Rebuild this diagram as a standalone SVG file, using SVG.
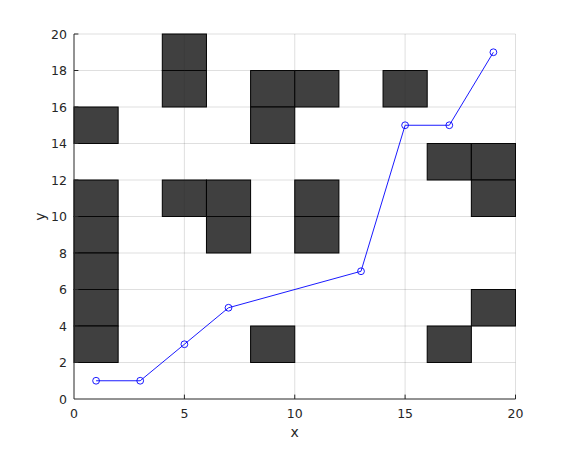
<svg xmlns="http://www.w3.org/2000/svg" width="570" height="450" viewBox="0 0 570 450">
<style>
.cell{fill:#404040;stroke:#000;stroke-width:1}
.grid{stroke:#262626;stroke-opacity:0.15;stroke-width:1;fill:none}
.axis{stroke:#262626;stroke-width:1;fill:none}
.tick{font-family:"DejaVu Sans",sans-serif;font-size:12.5px;fill:#262626}
.lab{font-family:"DejaVu Sans",sans-serif;font-size:14px;fill:#262626}
.mk{fill:none;stroke:#0000ff;stroke-width:0.9}
</style>
<rect width="570" height="450" fill="#fff"/>
<g id="obstacles">
<rect class="cell" x="74" y="107" width="44.15" height="36.5"/>
<rect class="cell" x="162.3" y="34" width="44.15" height="36.5"/>
<rect class="cell" x="162.3" y="70.5" width="44.15" height="36.5"/>
<rect class="cell" x="250.6" y="70.5" width="44.15" height="36.5"/>
<rect class="cell" x="294.75" y="70.5" width="44.15" height="36.5"/>
<rect class="cell" x="250.6" y="107" width="44.15" height="36.5"/>
<rect class="cell" x="383.05" y="70.5" width="44.15" height="36.5"/>
<rect class="cell" x="427.2" y="143.5" width="44.15" height="36.5"/>
<rect class="cell" x="471.35" y="143.5" width="44.15" height="36.5"/>
<rect class="cell" x="471.35" y="180" width="44.15" height="36.5"/>
<rect class="cell" x="74" y="180" width="44.15" height="36.5"/>
<rect class="cell" x="74" y="216.5" width="44.15" height="36.5"/>
<rect class="cell" x="74" y="253" width="44.15" height="36.5"/>
<rect class="cell" x="74" y="289.5" width="44.15" height="36.5"/>
<rect class="cell" x="74" y="326" width="44.15" height="36.5"/>
<rect class="cell" x="162.3" y="180" width="44.15" height="36.5"/>
<rect class="cell" x="206.45" y="180" width="44.15" height="36.5"/>
<rect class="cell" x="206.45" y="216.5" width="44.15" height="36.5"/>
<rect class="cell" x="294.75" y="180" width="44.15" height="36.5"/>
<rect class="cell" x="294.75" y="216.5" width="44.15" height="36.5"/>
<rect class="cell" x="250.6" y="326" width="44.15" height="36.5"/>
<rect class="cell" x="427.2" y="326" width="44.15" height="36.5"/>
<rect class="cell" x="471.35" y="289.5" width="44.15" height="36.5"/>
</g>
<g id="grid" class="grid">
<path d="M184.4 34V399M294.75 34V399M405.1 34V399M515.5 34V399"/>
<path d="M74 362.5H515.5M74 326H515.5M74 289.5H515.5M74 253H515.5M74 216.5H515.5M74 180H515.5M74 143.5H515.5M74 107H515.5M74 70.5H515.5M74 34H515.5"/>
</g>
<g id="axes" class="axis">
<path d="M74 34V399H515.5"/>
<path d="M74 362.5h4.4M74 326h4.4M74 289.5h4.4M74 253h4.4M74 216.5h4.4M74 180h4.4M74 143.5h4.4M74 107h4.4M74 70.5h4.4M74 34h4.4"/>
<path d="M184.4 399v-4.4M294.75 399v-4.4M405.1 399v-4.4M515.5 399v-4.4"/>
</g>
<g id="yticks" class="tick" text-anchor="end">
<text x="67" y="403.5">0</text>
<text x="67" y="367">2</text>
<text x="67" y="330.5">4</text>
<text x="67" y="294">6</text>
<text x="67" y="257.5">8</text>
<text x="67" y="221">10</text>
<text x="67" y="184.5">12</text>
<text x="67" y="148">14</text>
<text x="67" y="111.5">16</text>
<text x="67" y="75">18</text>
<text x="67" y="38.5">20</text>
</g>
<g id="xticks" class="tick" text-anchor="middle">
<text x="74" y="418">0</text>
<text x="184.4" y="418">5</text>
<text x="294.75" y="418">10</text>
<text x="405.1" y="418">15</text>
<text x="515.5" y="418">20</text>
</g>
<text class="lab" x="294.75" y="437" text-anchor="middle">x</text>
<text class="lab" transform="translate(45 216.5) rotate(-90)" text-anchor="middle">y</text>
<g id="path">
<polyline fill="none" stroke="#0000ff" stroke-width="0.9" points="96.08,380.75 140.2,380.75 184.4,344.25 228.5,307.75 361,271.25 405.1,125.25 449.3,125.25 493.4,52.25"/>
<g class="mk">
<circle cx="96.08" cy="380.75" r="3.4"/>
<circle cx="140.2" cy="380.75" r="3.4"/>
<circle cx="184.4" cy="344.25" r="3.4"/>
<circle cx="228.5" cy="307.75" r="3.4"/>
<circle cx="361" cy="271.25" r="3.4"/>
<circle cx="405.1" cy="125.25" r="3.4"/>
<circle cx="449.3" cy="125.25" r="3.4"/>
<circle cx="493.4" cy="52.25" r="3.4"/>
</g>
</g>
</svg>
